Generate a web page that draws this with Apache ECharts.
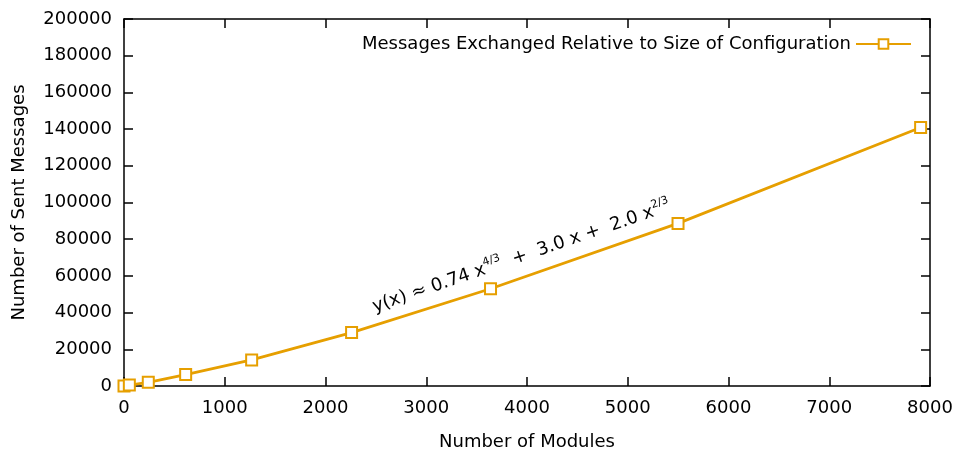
<!DOCTYPE html>
<html>
<head>
<meta charset="utf-8">
<script src="https://cdn.jsdelivr.net/npm/echarts@6/dist/echarts.min.js"></script>
<style>html,body{margin:0;padding:0;background:#fff}#c{width:958px;height:452px}</style>
</head>
<body>
<div id="c"></div>
<script>
var modules = [0, 53, 241, 612, 1267, 2259, 3638, 5499, 7907];
var messages = [0, 500, 2000, 6200, 14200, 29100, 53000, 88600, 140900];
var seriesName = 'Messages Exchanged Relative to Size of Configuration';
var xTitle = 'Number of Modules';
var yTitle = 'Number of Sent Messages';

var FONT = 'DejaVu Sans';
var FS = 18;
var COLOR = '#e69f00';
var chart = echarts.init(document.getElementById('c'), null, {renderer: 'canvas'});
var pts = modules.map(function (m, i) { return [m, messages[i]]; });
function line() { return {show: true, onZero: false, lineStyle: {color: '#000', width: 1.5}}; }
function tick() { return {show: true, inside: true, length: 9, lineStyle: {color: '#000', width: 1.5}}; }
var plain = function (v) { return String(v); };
chart.setOption({
  animation: false,
  backgroundColor: '#fff',
  textStyle: {fontFamily: FONT},
  grid: {left: 124, right: 28, top: 19, bottom: 66, outerBoundsMode: 'none', containLabel: false},
  legend: {
    right: 41, top: 30, itemWidth: 55, itemHeight: 12, itemGap: 8, align: 'right',
    textStyle: {fontFamily: FONT, fontSize: FS, color: '#000'},
    data: [seriesName]
  },
  xAxis: [{
    type: 'value', min: 0, max: 8000, interval: 1000,
    name: xTitle, nameLocation: 'middle', nameGap: 47,
    nameTextStyle: {fontFamily: FONT, fontSize: FS, color: '#000'},
    axisLine: line(), axisTick: tick(), splitLine: {show: false},
    axisLabel: {fontFamily: FONT, fontSize: FS, color: '#000', margin: 13, formatter: plain}
  }, {
    type: 'value', position: 'top', min: 0, max: 8000, interval: 1000,
    axisLine: line(), axisTick: tick(), splitLine: {show: false}, axisLabel: {show: false}
  }],
  yAxis: [{
    type: 'value', min: 0, max: 200000, interval: 20000,
    name: yTitle, nameLocation: 'middle', nameGap: 96,
    nameTextStyle: {fontFamily: FONT, fontSize: FS, color: '#000'},
    axisLine: line(), axisTick: tick(), splitLine: {show: false},
    axisLabel: {fontFamily: FONT, fontSize: FS, color: '#000', margin: 12, formatter: plain}
  }, {
    type: 'value', position: 'right', min: 0, max: 200000, interval: 20000,
    axisLine: line(), axisTick: tick(), splitLine: {show: false}, axisLabel: {show: false}
  }],
  series: [{
    name: seriesName, type: 'line', data: pts,
    symbol: 'emptyRect', symbolSize: 11, showAllSymbol: true,
    itemStyle: {color: COLOR, borderWidth: 2.5},
    lineStyle: {color: COLOR, width: 2.8}
  }],
  graphic: [{
    type: 'text', x: 377, y: 319, rotation: 0.33, originX: 0, originY: 0,
    style: {
      text: 'y(x) ≈ 0.74 x{sup|4/3}  +  3.0 x +  2.0 x{sup|2/3}',
      fontFamily: FONT, fontSize: FS, fill: '#000',
      verticalAlign: 'bottom', align: 'left',
      rich: {sup: {fontFamily: FONT, fontSize: 11, fill: '#000', verticalAlign: 'bottom', padding: [0, 0, 13, 0]}}
    }
  }]
});
</script>
</body>
</html>
